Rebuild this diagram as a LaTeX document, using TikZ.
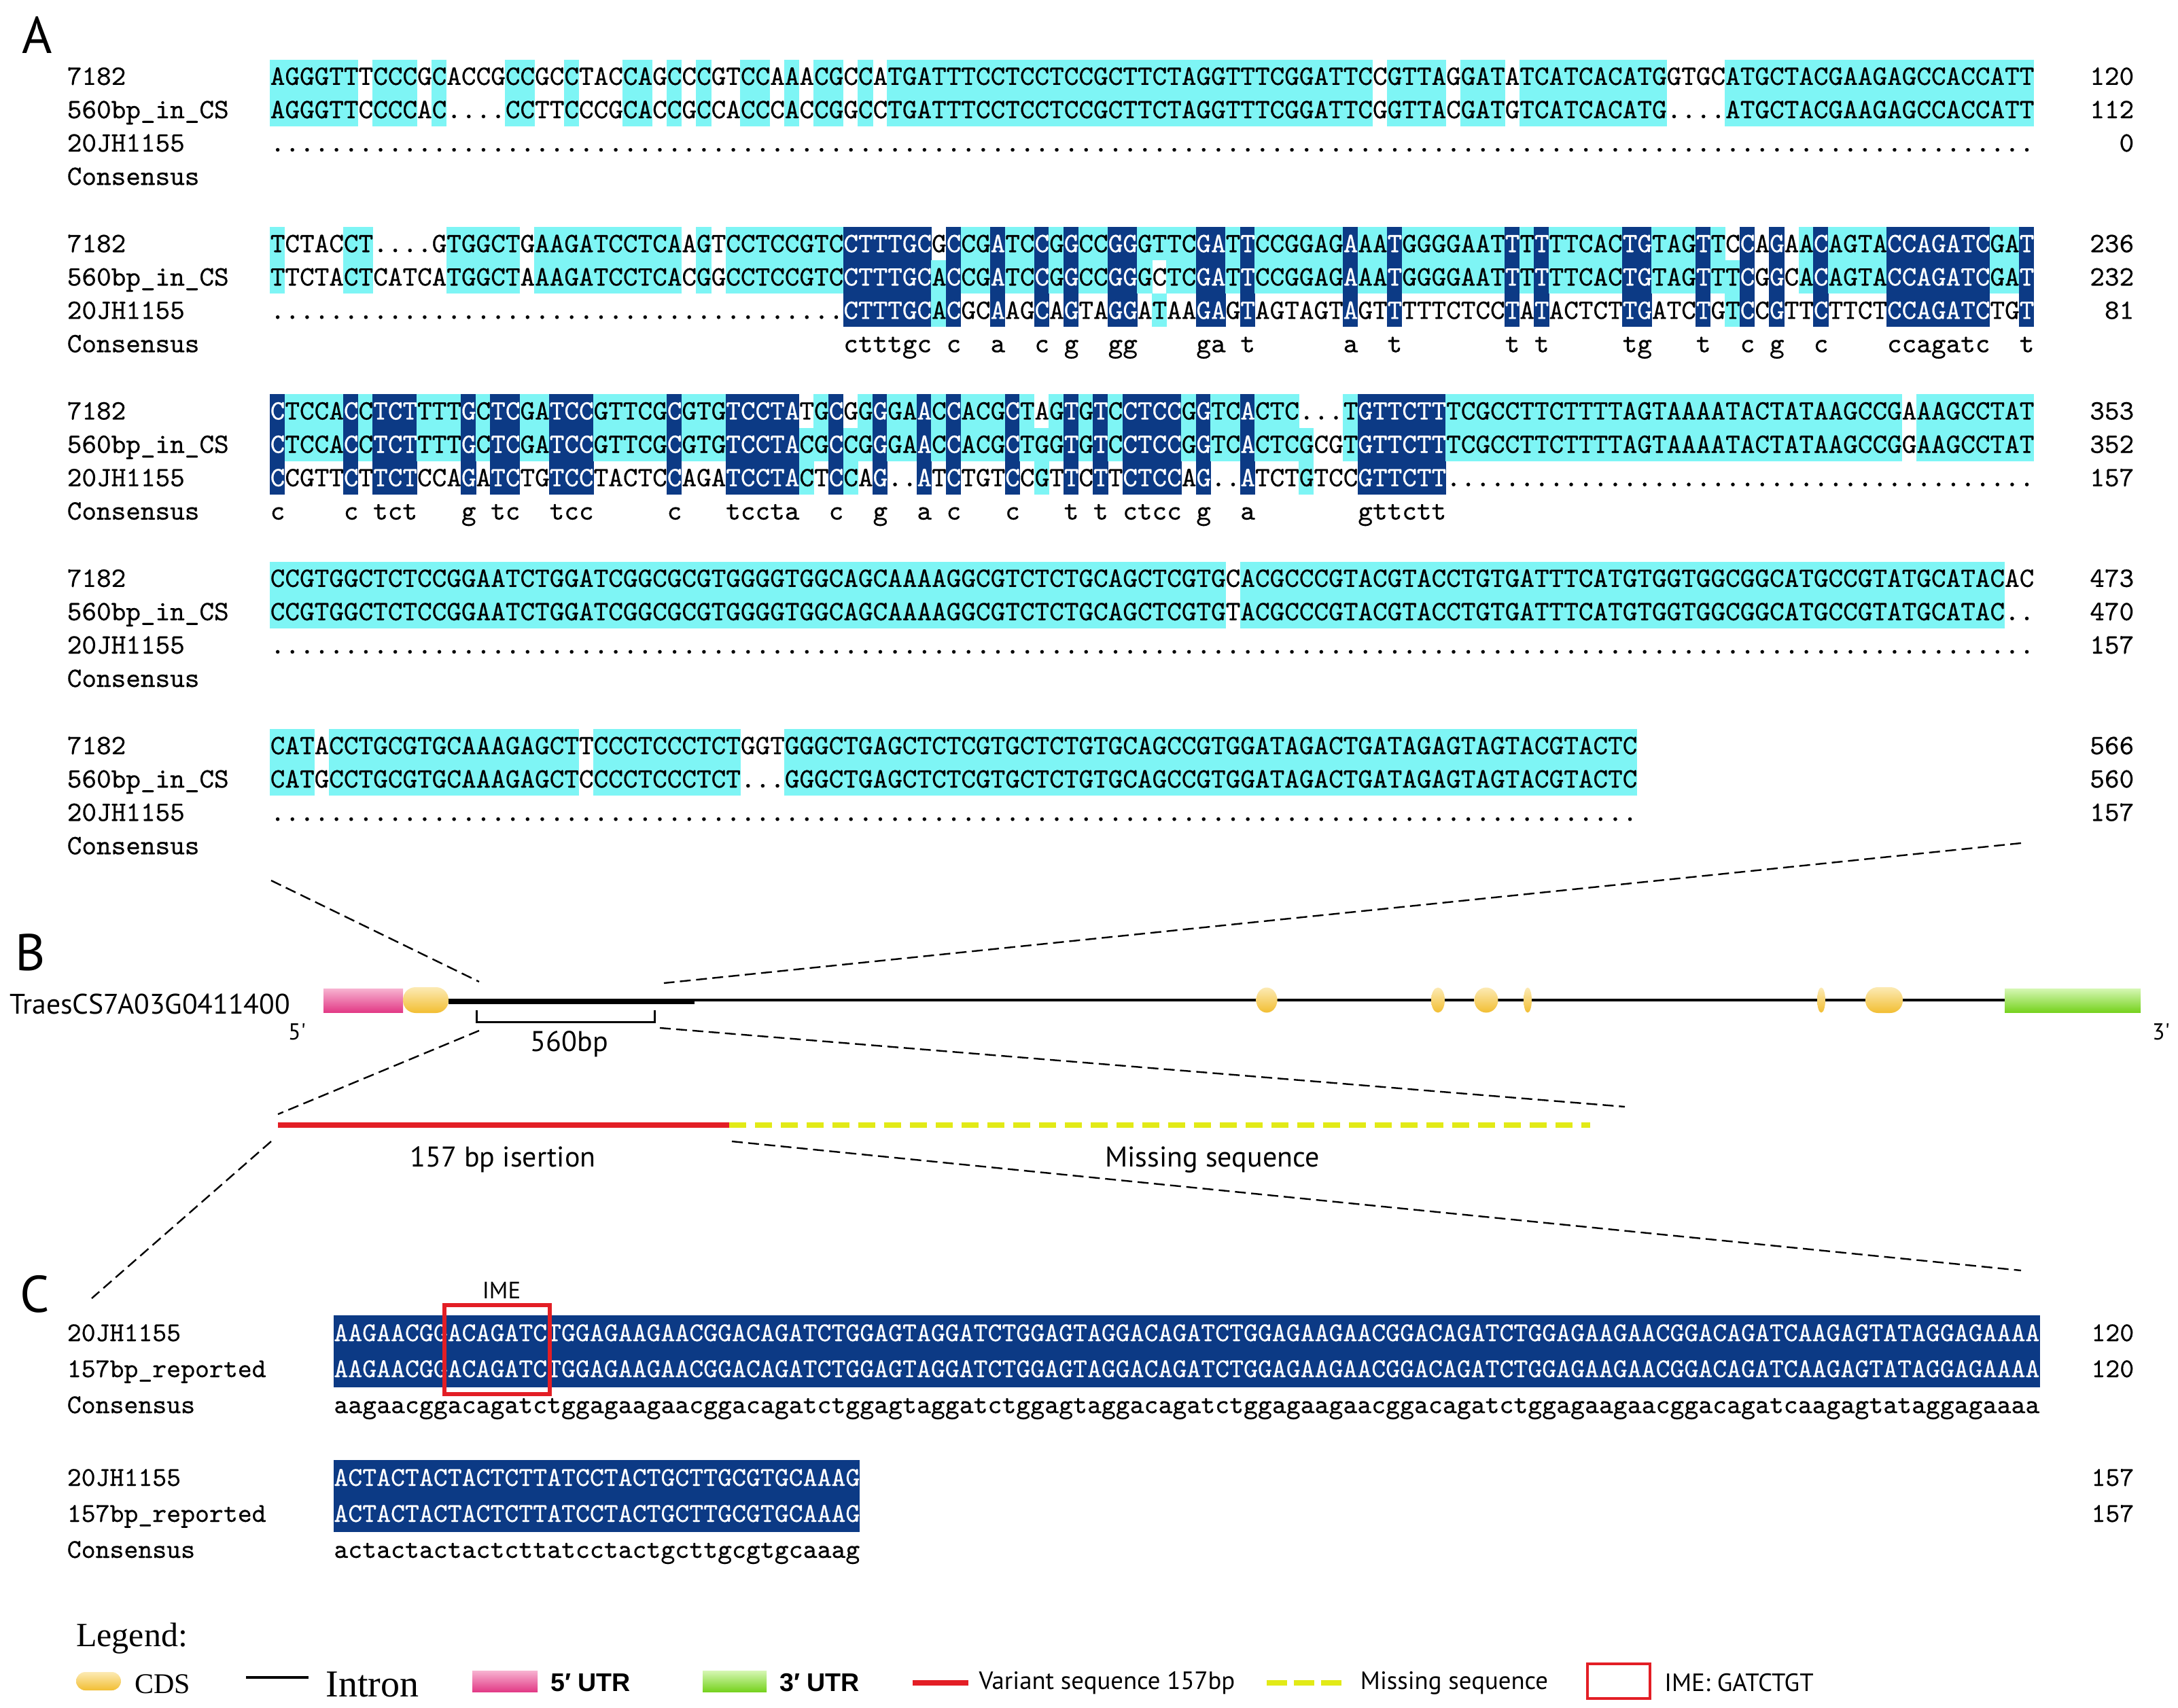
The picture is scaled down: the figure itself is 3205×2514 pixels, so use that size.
\documentclass[tikz,border=0pt]{standalone}
\usepackage{fontspec}
\setmainfont{Liberation Serif}
\newfontfamily\lblfont{PT Sans}
\newfontfamily\lsfont{Liberation Sans}
\newfontfamily\seqfont{Latin Modern Mono}[FakeBold=0.5]

\definecolor{cyanhl}{HTML}{7EF5F5}
\definecolor{navyhl}{HTML}{0C3A85}
\definecolor{utrpink}{HTML}{E23A86}
\definecolor{utrpinklight}{HTML}{F7B3D1}
\definecolor{utrgreen}{HTML}{76D21E}
\definecolor{utrgreenlight}{HTML}{D6F7B4}
\definecolor{cdsgold}{HTML}{F2BE32}
\definecolor{cdslight}{HTML}{FCEAB4}
\definecolor{varred}{HTML}{E31E25}
\definecolor{missyellow}{HTML}{E2EA17}

\ExplSyntaxOn
\str_new:N \l__rs_sa_str
\str_new:N \l__rs_sb_str
\str_new:N \l__rs_sc_str
\str_new:N \l__rs_a_str
\str_new:N \l__rs_b_str
\str_new:N \l__rs_c_str
\str_const:Nn \c__rs_dot_str { . }
\bool_new:N \l__rs_ab_bool
\bool_new:N \l__rs_ac_bool
\bool_new:N \l__rs_bc_bool
\int_new:N \l__rs_ma_int
\int_new:N \l__rs_mb_int
\int_new:N \l__rs_mc_int
\tl_new:N \l__rs_rowa_tl
\tl_new:N \l__rs_rowb_tl
\tl_new:N \l__rs_rowc_tl
\tl_new:N \l__rs_cons_tl
\tl_new:N \l__rs_cells_tl

\cs_new:Npn \rsdots #1 { \prg_replicate:nn { #1 } { . } }

\cs_new_protected:Npn \__rs_pair:NNN #1#2#3
 {
  \bool_set_false:N #1
  \tl_if_eq:NNT #2 #3
   {
    \tl_if_eq:NNF #2 \c__rs_dot_str
     { \bool_set_true:N #1 }
   }
 }

\cs_new_protected:Npn \__rs_put:NNnnn #1#2#3#4#5
 {
  \int_case:nn { #3 }
   {
    { 0 } { \tl_put_right:NV #1 #2 }
    { 1 }
     {
      \tl_put_right:NV #1 #2
      \tl_put_right:Nn \l__rs_cells_tl { \rscell { cyanhl } { #4 } { #5 } }
     }
    { 2 }
     {
      \tl_put_right:Nx #1 { \exp_not:N \textcolor { white } { \exp_not:V #2 } }
      \tl_put_right:Nn \l__rs_cells_tl { \rscell { navyhl } { #4 } { #5 } }
     }
   }
 }

\NewDocumentCommand \ComputeBlock { m m m }
 {
  \str_set:Nx \l__rs_sa_str { #1 }
  \str_set:Nx \l__rs_sb_str { #2 }
  \str_set:Nx \l__rs_sc_str { #3 }
  \tl_clear:N \l__rs_rowa_tl
  \tl_clear:N \l__rs_rowb_tl
  \tl_clear:N \l__rs_rowc_tl
  \tl_clear:N \l__rs_cons_tl
  \tl_clear:N \l__rs_cells_tl
  \int_step_inline:nn { \str_count:N \l__rs_sa_str }
   {
    \str_set:Nx \l__rs_a_str { \str_item:Nn \l__rs_sa_str { ##1 } }
    \str_set:Nx \l__rs_b_str { \str_item:Nn \l__rs_sb_str { ##1 } }
    \str_set:Nx \l__rs_c_str { \str_item:Nn \l__rs_sc_str { ##1 } }
    \__rs_pair:NNN \l__rs_ab_bool \l__rs_a_str \l__rs_b_str
    \__rs_pair:NNN \l__rs_ac_bool \l__rs_a_str \l__rs_c_str
    \__rs_pair:NNN \l__rs_bc_bool \l__rs_b_str \l__rs_c_str
    \int_zero:N \l__rs_ma_int
    \int_zero:N \l__rs_mb_int
    \int_zero:N \l__rs_mc_int
    \bool_if:nTF { \l__rs_ab_bool && \l__rs_ac_bool }
     {
      \int_set:Nn \l__rs_ma_int { 2 }
      \int_set:Nn \l__rs_mb_int { 2 }
      \int_set:Nn \l__rs_mc_int { 2 }
      \exp_args:NV \str_case:nn \l__rs_a_str
       {
        { A } { \tl_put_right:Nn \l__rs_cons_tl { a } }
        { C } { \tl_put_right:Nn \l__rs_cons_tl { c } }
        { G } { \tl_put_right:Nn \l__rs_cons_tl { g } }
        { T } { \tl_put_right:Nn \l__rs_cons_tl { t } }
       }
     }
     {
      \bool_if:NT \l__rs_ab_bool
       { \int_set:Nn \l__rs_ma_int { 1 } \int_set:Nn \l__rs_mb_int { 1 } }
      \bool_if:NT \l__rs_ac_bool
       { \int_set:Nn \l__rs_ma_int { 1 } \int_set:Nn \l__rs_mc_int { 1 } }
      \bool_if:NT \l__rs_bc_bool
       { \int_set:Nn \l__rs_mb_int { 1 } \int_set:Nn \l__rs_mc_int { 1 } }
      \tl_put_right:Nn \l__rs_cons_tl { \hphantom { x } }
     }
    \__rs_put:NNnnn \l__rs_rowa_tl \l__rs_a_str { \l__rs_ma_int } { ##1 } { 1 }
    \__rs_put:NNnnn \l__rs_rowb_tl \l__rs_b_str { \l__rs_mb_int } { ##1 } { 2 }
    \__rs_put:NNnnn \l__rs_rowc_tl \l__rs_c_str { \l__rs_mc_int } { ##1 } { 3 }
   }
  \cs_gset_eq:NN \rsRowA \l__rs_rowa_tl
  \cs_gset_eq:NN \rsRowB \l__rs_rowb_tl
  \cs_gset_eq:NN \rsRowC \l__rs_rowc_tl
  \cs_gset_eq:NN \rsCons \l__rs_cons_tl
  \cs_gset_eq:NN \rsCells \l__rs_cells_tl
 }
\ExplSyntaxOff

\def\rsxo{397}
\def\rscw{21.63}
\def\rspitch{49.1}
\def\rsbl{12.5}
\def\rsyo{0}
\newcommand\rscell[3]{\fill[#1] ({\rsxo+(#2-1)*\rscw},{\rsyo+(#3-1)*\rspitch-0.5*\rspitch}) rectangle ++({\rscw+0.7},{\rspitch});}

\tikzset{
  seq/.style={anchor=base west, inner sep=0pt, font=\seqfont\fontsize{10.3pt}{12pt}\selectfont},
  seqend/.style={seq, anchor=base east},
  cseq/.style={anchor=base west, inner sep=0pt, font=\seqfont\fontsize{9.96pt}{12pt}\selectfont},
  cseqend/.style={cseq, anchor=base east},
  panel/.style={font=\lblfont\fontsize{19pt}{22pt}\selectfont, inner sep=0pt},
  conn/.style={line width=0.6pt, dash pattern=on 4pt off 2pt},
  lbl/.style={font=\lblfont\fontsize{10.5pt}{12pt}\selectfont, inner sep=0pt},
  leg/.style={font=\lblfont\fontsize{9.2pt}{11pt}\selectfont, inner sep=0pt},
  legserif/.style={font=\fontsize{#1}{14pt}\selectfont, inner sep=0pt},
  legbold/.style={font=\lsfont\bfseries\fontsize{9.4pt}{11pt}\selectfont, inner sep=0pt},
  cdsshape/.style={top color=cdslight, bottom color=cdsgold},
}

\newcommand\blockA[8]{%
  \def\rsyo{#2}%
  \ComputeBlock{#3}{#4}{#5}%
  \rsCells
  \node[seq] (#1sa) at (\rsxo,{#2+\rsbl}) {\rsRowA};
  \node[seq] (#1sb) at (\rsxo,{#2+\rspitch+\rsbl}) {\rsRowB};
  \node[seq] (#1sc) at (\rsxo,{#2+2*\rspitch+\rsbl}) {\rsRowC};
  \node[seq] (#1cs) at (\rsxo,{#2+3*\rspitch+\rsbl}) {\rsCons};
  \node[seq] (#1na) at (98,{#2+\rsbl}) {7182};
  \node[seq] (#1nb) at (98,{#2+\rspitch+\rsbl}) {560bp\_in\_CS};
  \node[seq] (#1nc) at (98,{#2+2*\rspitch+\rsbl}) {20JH1155};
  \node[seq] (#1nd) at (98,{#2+3*\rspitch+\rsbl}) {Consensus};
  \node[seqend] (#1ea) at (3141,{#2+\rsbl}) {#6};
  \node[seqend] (#1eb) at (3141,{#2+\rspitch+\rsbl}) {#7};
  \node[seqend] (#1ec) at (3141,{#2+2*\rspitch+\rsbl}) {#8};
}

\begin{document}
\begin{tikzpicture}[x=0.25pt,y=-0.25pt]
\useasboundingbox (0,0) rectangle (3205,2514);
\fill[white] (0,0) rectangle (3205,2514);

% ---------------- Panel A ----------------
\node[panel] (pA) at (55,51) {A};

\blockA{ka}{112.4}
 {AGGGTTTCCCGCACCGCCGCCTACCAGCCCGTCCAAACGCCATGATTTCCTCCTCCGCTTCTAGGTTTCGGATTCCGTTAGGATATCATCACATGGTGCATGCTACGAAGAGCCACCATT}
 {AGGGTTCCCCAC....CCTTCCCGCACCGCCACCCACCGGCCTGATTTCCTCCTCCGCTTCTAGGTTTCGGATTCGGTTACGATGTCATCACATG....ATGCTACGAAGAGCCACCATT}
 {\rsdots{120}}{120}{112}{0}

\blockA{kb}{358.7}
 {TCTACCT....GTGGCTGAAGATCCTCAAGTCCTCCGTCCTTTGCGCCGATCCGGCCGGGTTCGATTCCGGAGAAATGGGGAATTTTTTCACTGTAGTTCCAGAACAGTACCAGATCGAT}
 {TTCTACTCATCATGGCTAAAGATCCTCACGGCCTCCGTCCTTTGCACCGATCCGGCCGGGCTCGATTCCGGAGAAATGGGGAATTTTTTCACTGTAGTTTCGGCACAGTACCAGATCGAT}
 {\rsdots{39}CTTTGCACGCAAGCAGTAGGATAAGAGTAGTAGTAGTTTTTCTCCTATACTCTTGATCTGTCCGTTCTTCTCCAGATCTGT}{236}{232}{81}

\blockA{kc}{605}
 {CTCCACCTCTTTTGCTCGATCCGTTCGCGTGTCCTATGCGGGGAACCACGCTAGTGTCCTCCGGTCACTC...TGTTCTTTCGCCTTCTTTTAGTAAAATACTATAAGCCGAAAGCCTAT}
 {CTCCACCTCTTTTGCTCGATCCGTTCGCGTGTCCTACGCCGGGAACCACGCTGGTGTCCTCCGGTCACTCGCGTGTTCTTTCGCCTTCTTTTAGTAAAATACTATAAGCCGGAAGCCTAT}
 {CCGTTCTTCTCCAGATCTGTCCTACTCCAGATCCTACTCCAG..ATCTGTCCGTTCTTCTCCAG..ATCTGTCCGTTCTT\rsdots{40}}{353}{352}{157}

\blockA{kd}{851.3}
 {CCGTGGCTCTCCGGAATCTGGATCGGCGCGTGGGGTGGCAGCAAAAGGCGTCTCTGCAGCTCGTGCACGCCCGTACGTACCTGTGATTTCATGTGGTGGCGGCATGCCGTATGCATACAC}
 {CCGTGGCTCTCCGGAATCTGGATCGGCGCGTGGGGTGGCAGCAAAAGGCGTCTCTGCAGCTCGTGTACGCCCGTACGTACCTGTGATTTCATGTGGTGGCGGCATGCCGTATGCATAC..}
 {\rsdots{120}}{473}{470}{157}

\blockA{ke}{1097.6}
 {CATACCTGCGTGCAAAGAGCTTCCCTCCCTCTGGTGGGCTGAGCTCTCGTGCTCTGTGCAGCCGTGGATAGACTGATAGAGTAGTACGTACTC}
 {CATGCCTGCGTGCAAAGAGCTCCCCTCCCTCT...GGGCTGAGCTCTCGTGCTCTGTGCAGCCGTGGATAGACTGATAGAGTAGTACGTACTC}
 {\rsdots{93}}{566}{560}{157}

% ---------------- Panel B ----------------
\node[panel] (pB) at (45,1402) {B};
\node[lbl, font=\lblfont\fontsize{10.4pt}{12pt}\selectfont, anchor=west] (gname) at (14,1478) {TraesCS7A03G0411400};

\draw[line width=1pt] (593,1472) -- (2950,1472);
\draw[line width=1.9pt] (660,1474) -- (1022,1474);
\shade[top color=utrpinklight, bottom color=utrpink] (476,1455) rectangle (593,1490);
\shade[top color=utrgreenlight, bottom color=utrgreen] (2950,1455) rectangle (3150,1490);
\shade[cdsshape, rounded corners=4.6pt] (593,1453) rectangle (660,1491);
\shade[cdsshape] (1864,1472) ellipse [x radius=15.5, y radius=18.5];
\shade[cdsshape] (2116,1472) ellipse [x radius=10, y radius=18.5];
\shade[cdsshape] (2187,1472) ellipse [x radius=17.5, y radius=18.5];
\shade[cdsshape] (2248,1472) ellipse [x radius=6, y radius=18.5];
\shade[cdsshape] (2680,1472) ellipse [x radius=6, y radius=18.5];
\shade[cdsshape, rounded corners=4.6pt] (2745,1453) rectangle (2800,1491);

\node[lbl, font=\lblfont\fontsize{8.5pt}{10pt}\selectfont] (five) at (437,1519) {5'};
\node[lbl, font=\lblfont\fontsize{8.5pt}{10pt}\selectfont] (three) at (3180,1519) {3'};

\draw[line width=0.75pt] (701,1487) -- (701,1504) -- (963,1504) -- (963,1487);
\node[lbl] (bp560) at (838,1537) {560bp};

\coordinate (l1a) at (399,1296);  \coordinate (l1b) at (705,1445);
\coordinate (l2a) at (2974,1241); \coordinate (l2b) at (977,1447);
\coordinate (l3a) at (705,1517);  \coordinate (l3b) at (409,1640);
\coordinate (l4a) at (971,1513);  \coordinate (l4b) at (2391,1629);
\coordinate (l5a) at (399,1680);  \coordinate (l5b) at (135,1911);
\coordinate (l6a) at (1077,1680); \coordinate (l6b) at (2974,1870);
\draw[conn] (l1a) -- (l1b);
\draw[conn] (l2a) -- (l2b);
\draw[conn] (l3a) -- (l3b);
\draw[conn] (l4a) -- (l4b);
\draw[conn] (l5a) -- (l5b);
\draw[conn] (l6a) -- (l6b);

\coordinate (redA) at (409,1656);
\coordinate (redB) at (1073,1656);
\coordinate (yelB) at (2340,1656);
\draw[varred, line width=2pt] (redA) -- (redB);
\draw[missyellow, line width=2pt, dash pattern=on 6.25pt off 3.25pt] (redB) -- (yelB);
\node[lbl] (ins) at (740,1707) {157 bp isertion};
\node[lbl] (miss) at (1784,1707) {Missing sequence};

% ---------------- Panel C ----------------
\node[panel] (pC) at (51,1905) {C};
\node[lbl, font=\lblfont\fontsize{8.7pt}{10pt}\selectfont] (ime) at (738,1899) {IME};

\fill[navyhl] (490.6,1935.5) rectangle (3001.5,2041.5);
\node[cseq, text=white] (c1a) at (490.6,1974) {AAGAACGGACAGATCTGGAGAAGAACGGACAGATCTGGAGTAGGATCTGGAGTAGGACAGATCTGGAGAAGAACGGACAGATCTGGAGAAGAACGGACAGATCAAGAGTATAGGAGAAAA};
\node[cseq, text=white] (c1b) at (490.6,2027) {AAGAACGGACAGATCTGGAGAAGAACGGACAGATCTGGAGTAGGATCTGGAGTAGGACAGATCTGGAGAAGAACGGACAGATCTGGAGAAGAACGGACAGATCAAGAGTATAGGAGAAAA};
\node[cseq] (c1c) at (490.6,2080) {aagaacggacagatctggagaagaacggacagatctggagtaggatctggagtaggacagatctggagaagaacggacagatctggagaagaacggacagatcaagagtataggagaaaa};
\node[cseq] (c1na) at (98,1974) {20JH1155};
\node[cseq] (c1nb) at (98,2027) {157bp\_reported};
\node[cseq] (c1nc) at (98,2080) {Consensus};
\node[cseqend] (c1ea) at (3141,1974) {120};
\node[cseqend] (c1eb) at (3141,2027) {120};

\fill[navyhl] (490.6,2148.5) rectangle (1264.6,2254.5);
\node[cseq, text=white] (c2a) at (490.6,2187) {ACTACTACTACTCTTATCCTACTGCTTGCGTGCAAAG};
\node[cseq, text=white] (c2b) at (490.6,2240) {ACTACTACTACTCTTATCCTACTGCTTGCGTGCAAAG};
\node[cseq] (c2c) at (490.6,2293) {actactactactcttatcctactgcttgcgtgcaaag};
\node[cseq] (c2na) at (98,2187) {20JH1155};
\node[cseq] (c2nb) at (98,2240) {157bp\_reported};
\node[cseq] (c2nc) at (98,2293) {Consensus};
\node[cseqend] (c2ea) at (3141,2187) {157};
\node[cseqend] (c2eb) at (3141,2240) {157};

\draw[varred, line width=1.5pt] (654,1921) rectangle (809,2052);

% ---------------- Legend ----------------
\node[legserif=12.5pt] (legt) at (194,2412) {Legend:};
\shade[cdsshape, rounded corners=3.4pt] (112,2461) rectangle (178,2488);
\node[legserif=10.5pt] (legcds) at (239,2479) {CDS};
\draw[line width=1pt] (362,2469) -- (454,2469);
\node[legserif=14pt] (legintron) at (548,2479) {Intron};
\shade[top color=utrpinklight, bottom color=utrpink] (695,2459) rectangle (791,2490);
\node[legbold] (leg5) at (869,2477) {5′ UTR};
\shade[top color=utrgreenlight, bottom color=utrgreen] (1034,2459) rectangle (1128,2490);
\node[legbold] (leg3) at (1206,2477) {3′ UTR};
\draw[varred, line width=2pt] (1343,2477) -- (1425,2477);
\node[leg] (legvar) at (1629,2477) {Variant sequence 157bp};
\draw[missyellow, line width=2pt, dash pattern=on 7.5pt off 2.5pt] (1864,2477) -- (1977,2477);
\node[leg] (legmiss) at (2140,2477) {Missing sequence};
\draw[varred, line width=1.2pt] (2336,2449) rectangle (2428,2500);
\node[leg] (legime) at (2559,2477) {IME: GATCTGT};
\end{tikzpicture}
\end{document}
